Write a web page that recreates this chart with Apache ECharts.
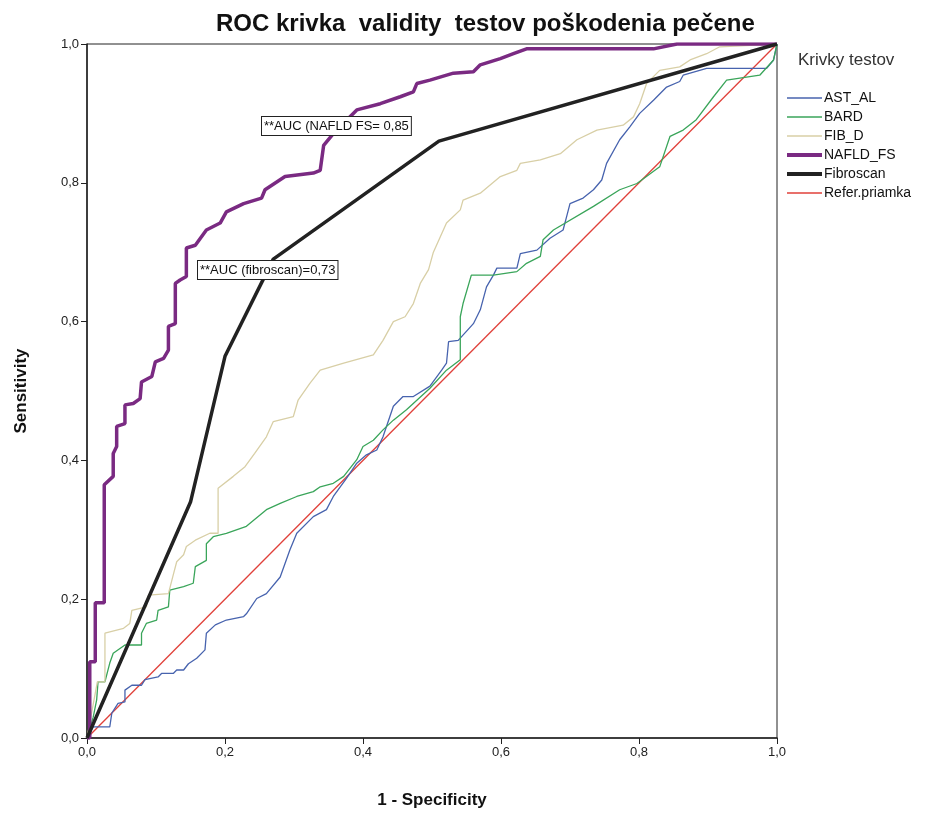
<!DOCTYPE html>
<html><head><meta charset="utf-8">
<script src="https://cdn.jsdelivr.net/npm/echarts@6/dist/echarts.min.js"></script>
<style>html,body{margin:0;padding:0;background:#fff}#c{width:937px;height:816px}</style>
</head><body><div id="c"></div>
<script>
const seriesNames = ['AST_AL','BARD','FIB_D','NAFLD_FS','Fibroscan','Refer.priamka'];
const xTicks = [0,0.2,0.4,0.6,0.8,1.0];
const astAl = [[0,0],[0.009,0.016],[0.033,0.016],[0.036,0.036],[0.045,0.05],[0.055,0.052],[0.055,0.069],[0.065,0.076],[0.079,0.076],[0.084,0.084],[0.103,0.088],[0.108,0.093],[0.125,0.093],[0.13,0.098],[0.14,0.098],[0.147,0.107],[0.159,0.115],[0.171,0.127],[0.173,0.151],[0.186,0.163],[0.202,0.17],[0.227,0.175],[0.231,0.179],[0.246,0.201],[0.26,0.208],[0.28,0.232],[0.294,0.271],[0.304,0.295],[0.328,0.319],[0.347,0.329],[0.357,0.348],[0.376,0.374],[0.391,0.396],[0.405,0.408],[0.42,0.415],[0.429,0.434],[0.444,0.478],[0.458,0.492],[0.473,0.492],[0.497,0.507],[0.514,0.53],[0.521,0.54],[0.524,0.571],[0.538,0.573],[0.56,0.597],[0.57,0.617],[0.579,0.65],[0.589,0.667],[0.594,0.677],[0.623,0.677],[0.628,0.698],[0.652,0.703],[0.671,0.72],[0.69,0.732],[0.695,0.751],[0.7,0.77],[0.719,0.778],[0.734,0.79],[0.746,0.804],[0.753,0.828],[0.772,0.862],[0.787,0.881],[0.801,0.9],[0.821,0.919],[0.84,0.938],[0.859,0.946],[0.864,0.955],[0.898,0.965],[0.985,0.965],[0.995,0.977],[1,1]];
const bard = [[0,0],[0.009,0.03],[0.014,0.055],[0.016,0.081],[0.026,0.081],[0.033,0.108],[0.038,0.122],[0.055,0.134],[0.079,0.134],[0.079,0.151],[0.086,0.165],[0.101,0.17],[0.103,0.184],[0.118,0.189],[0.12,0.213],[0.14,0.218],[0.154,0.223],[0.157,0.247],[0.173,0.256],[0.173,0.28],[0.183,0.29],[0.202,0.295],[0.231,0.305],[0.26,0.329],[0.28,0.338],[0.304,0.348],[0.328,0.355],[0.338,0.362],[0.357,0.367],[0.372,0.377],[0.391,0.401],[0.4,0.42],[0.415,0.429],[0.429,0.444],[0.444,0.458],[0.463,0.473],[0.497,0.504],[0.521,0.53],[0.541,0.545],[0.541,0.607],[0.545,0.626],[0.557,0.667],[0.589,0.667],[0.623,0.672],[0.637,0.684],[0.657,0.694],[0.661,0.718],[0.676,0.732],[0.734,0.766],[0.772,0.79],[0.797,0.799],[0.83,0.823],[0.845,0.867],[0.864,0.876],[0.883,0.891],[0.908,0.924],[0.927,0.948],[0.975,0.955],[0.995,0.977],[1,1]];
const fibD = [[0,0],[0.015,0.081],[0.026,0.081],[0.026,0.151],[0.053,0.158],[0.062,0.165],[0.065,0.184],[0.086,0.189],[0.089,0.206],[0.118,0.208],[0.125,0.235],[0.13,0.254],[0.14,0.264],[0.144,0.276],[0.157,0.285],[0.178,0.295],[0.19,0.295],[0.19,0.36],[0.212,0.377],[0.229,0.391],[0.243,0.41],[0.26,0.434],[0.27,0.456],[0.299,0.463],[0.306,0.487],[0.323,0.511],[0.338,0.53],[0.372,0.54],[0.415,0.552],[0.429,0.573],[0.444,0.6],[0.461,0.607],[0.473,0.626],[0.483,0.655],[0.495,0.675],[0.502,0.7],[0.521,0.742],[0.541,0.761],[0.545,0.775],[0.57,0.785],[0.599,0.809],[0.623,0.818],[0.628,0.828],[0.657,0.833],[0.686,0.842],[0.71,0.862],[0.739,0.876],[0.777,0.883],[0.792,0.895],[0.801,0.914],[0.811,0.943],[0.83,0.962],[0.859,0.967],[0.874,0.977],[0.898,0.986],[0.917,0.996],[1,1]];
const nafldFs = [[0,0],[0.004,0],[0.004,0.11],[0.012,0.11],[0.012,0.195],[0.025,0.195],[0.025,0.365],[0.038,0.377],[0.038,0.41],[0.043,0.42],[0.043,0.449],[0.055,0.453],[0.055,0.48],[0.067,0.482],[0.077,0.489],[0.079,0.513],[0.094,0.521],[0.099,0.542],[0.111,0.547],[0.118,0.559],[0.118,0.593],[0.128,0.597],[0.128,0.655],[0.135,0.66],[0.144,0.665],[0.144,0.706],[0.157,0.71],[0.173,0.732],[0.193,0.742],[0.202,0.758],[0.227,0.77],[0.253,0.778],[0.258,0.79],[0.287,0.809],[0.328,0.814],[0.338,0.818],[0.343,0.854],[0.357,0.871],[0.391,0.905],[0.425,0.914],[0.454,0.924],[0.473,0.931],[0.478,0.943],[0.497,0.948],[0.531,0.958],[0.56,0.96],[0.57,0.97],[0.599,0.979],[0.618,0.986],[0.637,0.993],[0.821,0.993],[0.855,1],[1,1]];
const fibroscan = [[0,0],[0.15,0.34],[0.2,0.55],[0.27,0.69],[0.51,0.86],[1,1]];
const referLine = [[0,0],[1,1]];
const annotations = ['**AUC (NAFLD FS= 0,85', '**AUC (fibroscan)=0,73'];

const FONT = 'Arial, "Liberation Sans", sans-serif';
const chart = echarts.init(document.getElementById('c'), null, {renderer:'canvas'});
function mk(name, data, color, width, z){
  return {name, type:'line', data, symbol:'none', showSymbol:false, z,
    lineStyle:{color, width}, itemStyle:{color}, animation:false, emphasis:{disabled:true}};
}
function leg(names, top, h){
  return {orient:'vertical', left:782, top, itemWidth:35, itemHeight:h, itemGap:3, icon:'rect',
    data:names, selectedMode:false,
    textStyle:{fontFamily:FONT, fontSize:14, color:'#111', lineHeight:16, height:16, padding:[0,0,0,-3]}};
}
const labelFmt = v => v.toFixed(1).replace('.', ',');
chart.setOption({
  animation:false,
  backgroundColor:'#fff',
  title:{text:'ROC krivka  validity  testov poškodenia pečene', left:211, top:7,
    textStyle:{fontFamily:FONT, fontSize:24, fontWeight:'bold', color:'#111'}},
  grid:{left:87, right:160, top:44, bottom:78, show:true, borderColor:'#222', borderWidth:1, backgroundColor:'transparent'},
  legend:[
    leg(['AST_AL','BARD','FIB_D'], 85, 1.5),
    leg(['NAFLD_FS','Fibroscan'], 142, 4),
    leg(['Refer.priamka'], 180, 1.5)
  ],
  xAxis:{type:'value', min:0, max:1, interval:0.2, name:'1 - Specificity', nameLocation:'middle', nameGap:54,
    nameTextStyle:{fontFamily:FONT, fontSize:17, fontWeight:'bold', color:'#111'},
    axisLine:{show:true, lineStyle:{color:'#222', width:1.5}}, axisTick:{show:true, length:6, lineStyle:{color:'#222'}},
    splitLine:{show:false},
    axisLabel:{fontFamily:FONT, fontSize:13, color:'#222', margin:8, formatter:labelFmt}},
  yAxis:{type:'value', min:0, max:1, interval:0.2, name:'Sensitivity', nameLocation:'middle', nameGap:57,
    nameTextStyle:{fontFamily:FONT, fontSize:17, fontWeight:'bold', color:'#111'},
    axisLine:{show:true, lineStyle:{color:'#222', width:1.5}}, axisTick:{show:true, length:6, lineStyle:{color:'#222'}},
    splitLine:{show:false},
    axisLabel:{fontFamily:FONT, fontSize:13, color:'#222', margin:8, formatter:labelFmt}},
  graphic:[
    {type:'text', left:798, top:52, style:{text:'Krivky testov', font:'17px '+FONT, fill:'#333'}},
    {type:'text', left:261, top:116, z:100, style:{text:annotations[0], font:'13px '+FONT, fill:'#111',
      backgroundColor:'#fff', borderColor:'#222', borderWidth:1, padding:[3,2,2,2]}},
    {type:'text', left:197, top:260, z:100, style:{text:annotations[1], font:'13px '+FONT, fill:'#111',
      backgroundColor:'#fff', borderColor:'#222', borderWidth:1, padding:[3,2,2,2]}}
  ],
  series:[
    mk('Refer.priamka', referLine, '#e0403a', 1.3, 2),
    mk('AST_AL', astAl, '#4763ae', 1.3, 3),
    mk('BARD', bard, '#3aa55a', 1.3, 3),
    mk('FIB_D', fibD, '#d8cfa6', 1.3, 3),
    mk('NAFLD_FS', nafldFs, '#7a2a82', 3.5, 4),
    mk('Fibroscan', fibroscan, '#222222', 3.5, 5)
  ]
});
</script></body></html>
